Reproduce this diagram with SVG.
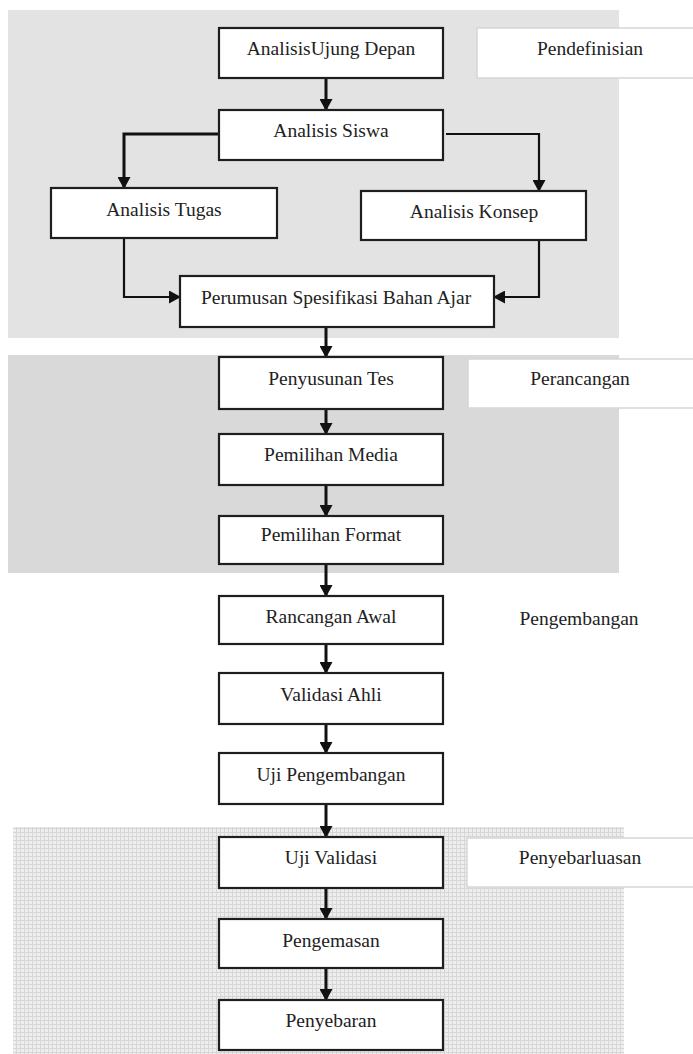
<svg xmlns="http://www.w3.org/2000/svg" width="693" height="1054" viewBox="0 0 693 1054">
<style>
.box{fill:#fff;stroke:#1e1e1e;stroke-width:2.2}
.lbl{fill:#fff;stroke:#d6d6d6;stroke-width:1.5}
.t{font-family:"Liberation Serif","Times New Roman",serif;font-size:19.5px;fill:#222;text-anchor:middle}
.c{fill:none;stroke:#111;stroke-width:3}
.c2{fill:none;stroke:#111;stroke-width:2.2}
</style>
<defs>
<marker id="arr" viewBox="0 0 12 13" refX="11" refY="6.5" markerWidth="12" markerHeight="13" markerUnits="userSpaceOnUse" orient="auto">
<path d="M0,0 L12,6.5 L0,13 z" fill="#111"/>
</marker>
<pattern id="grid" width="4" height="4" patternUnits="userSpaceOnUse">
<rect width="4" height="4" fill="#eeeeee"/>
<path d="M0,0.5 H4 M0.5,0 V4" stroke="#d6d6d6" stroke-width="1"/>
</pattern>
</defs>
<g id="backgrounds">
<rect x="8" y="10" width="611" height="328" fill="#e3e3e3"/>
<rect x="8" y="355" width="611" height="218" fill="#d9d9d9"/>
<rect x="13" y="827" width="611" height="227" fill="url(#grid)"/>
</g>
<g id="connectors">
<path class="c" d="M326,78 L326,110" marker-end="url(#arr)"/>
<path class="c" d="M219,134 L124,134 L124,188" marker-end="url(#arr)"/>
<path class="c2" d="M446,134 L539,134 L539,191" marker-end="url(#arr)"/>
<path class="c2" d="M124,238 L124,297 L180,297" marker-end="url(#arr)"/>
<path class="c2" d="M539,240 L539,297 L494,297" marker-end="url(#arr)"/>
<path class="c" d="M326,327 L326,357" marker-end="url(#arr)"/>
<path class="c" d="M326,409 L326,434" marker-end="url(#arr)"/>
<path class="c" d="M326,485 L326,516" marker-end="url(#arr)"/>
<path class="c" d="M326,564 L326,596" marker-end="url(#arr)"/>
<path class="c" d="M326,644 L326,673" marker-end="url(#arr)"/>
<path class="c" d="M326,724 L326,753" marker-end="url(#arr)"/>
<path class="c" d="M326,804 L326,837" marker-end="url(#arr)"/>
<path class="c" d="M326,888 L326,919" marker-end="url(#arr)"/>
<path class="c" d="M326,968 L326,1000" marker-end="url(#arr)"/>
</g>
<g id="n-analisis-ujung-depan"><rect class="box" x="219" y="28" width="224" height="50"/><text class="t" x="331" y="55">AnalisisUjung Depan</text></g>
<g id="l-pendefinisian"><rect class="lbl" x="477" y="28" width="218" height="50"/><text class="t" x="590" y="55">Pendefinisian</text></g>
<g id="n-analisis-siswa"><rect class="box" x="219" y="110" width="224" height="50"/><text class="t" x="331" y="137">Analisis Siswa</text></g>
<g id="n-analisis-tugas"><rect class="box" x="51" y="188" width="226" height="50"/><text class="t" x="164" y="216">Analisis Tugas</text></g>
<g id="n-analisis-konsep"><rect class="box" x="361" y="191" width="225" height="49"/><text class="t" x="474" y="218">Analisis Konsep</text></g>
<g id="n-perumusan"><rect class="box" x="180" y="276" width="314" height="51"/><text class="t" x="336" y="304">Perumusan Spesifikasi Bahan Ajar</text></g>
<g id="n-penyusunan-tes"><rect class="box" x="219" y="357" width="224" height="52"/><text class="t" x="331" y="385">Penyusunan Tes</text></g>
<g id="l-perancangan"><rect class="lbl" x="468" y="359" width="227" height="49"/><text class="t" x="580" y="385">Perancangan</text></g>
<g id="n-pemilihan-media"><rect class="box" x="219" y="434" width="224" height="51"/><text class="t" x="331" y="461">Pemilihan Media</text></g>
<g id="n-pemilihan-format"><rect class="box" x="219" y="516" width="224" height="48"/><text class="t" x="331" y="541">Pemilihan Format</text></g>
<g id="n-rancangan-awal"><rect class="box" x="219" y="596" width="224" height="48"/><text class="t" x="331" y="623">Rancangan Awal</text></g>
<g id="l-pengembangan"><text class="t" x="579" y="625">Pengembangan</text></g>
<g id="n-validasi-ahli"><rect class="box" x="219" y="673" width="224" height="51"/><text class="t" x="331" y="701">Validasi Ahli</text></g>
<g id="n-uji-pengembangan"><rect class="box" x="219" y="753" width="224" height="51"/><text class="t" x="331" y="781">Uji Pengembangan</text></g>
<g id="n-uji-validasi"><rect class="box" x="219" y="837" width="224" height="51"/><text class="t" x="331" y="864">Uji Validasi</text></g>
<g id="l-penyebarluasan"><rect class="lbl" x="467" y="838" width="228" height="49"/><text class="t" x="580" y="864">Penyebarluasan</text></g>
<g id="n-pengemasan"><rect class="box" x="219" y="919" width="224" height="49"/><text class="t" x="331" y="947">Pengemasan</text></g>
<g id="n-penyebaran"><rect class="box" x="219" y="1000" width="224" height="50"/><text class="t" x="331" y="1027">Penyebaran</text></g>
</svg>
